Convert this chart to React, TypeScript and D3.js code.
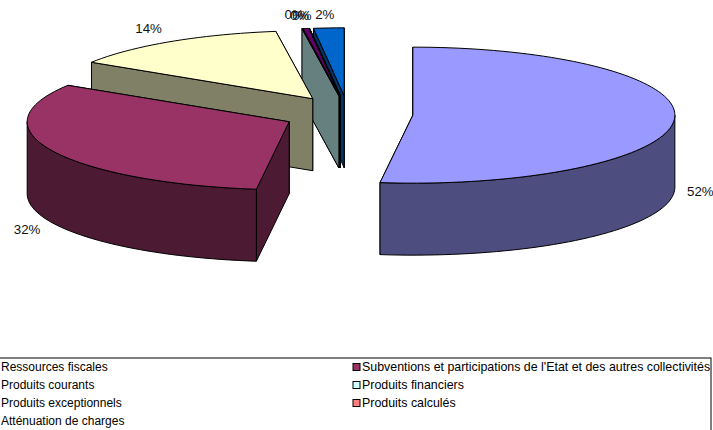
// App.tsx
import * as d3 from "d3";

const CATEGORIES = [
  "Ressources fiscales",
  "Subventions et participations de l'Etat et des autres collectivités",
  "Produits courants",
  "Produits financiers",
  "Produits exceptionnels",
  "Produits calculés",
  "Atténuation de charges",
];
const VALUES = [52, 32, 13.75, 0.02, 0.35, 0.01, 1.87];
const COLORS = ["#9999ff", "#993366", "#ffffcc", "#ccffff", "#660066", "#ff8080", "#0066cc"];

const WIDTH = 713;
const HEIGHT = 430;
const CENTER = { x: 348, y: 114 };
const RX = 262;
const RY = 68;
const DEPTH = 72;
const EXPLODE = 65;
const EXPLODE_Y = 0.28;

// label nudges from the exploded rim point
const LABEL_NUDGE = [
  [26, 73],
  [-25, 80],
  [-22, -12],
  [-8, -13],
  [-4, -12],
  [-10, -12],
  [-4, -12],
];

type Pt = [number, number];

const pieAngles = d3
  .pie<number>()
  .sort(null)
  .startAngle(0)
  .endAngle(Math.PI * 2)(VALUES);

const total = d3.sum(VALUES);
const path = d3.line<Pt>();
const half = (c: string) => {
  const { r, g, b } = d3.rgb(c);
  return d3.rgb(r / 2, g / 2, b / 2).formatHex();
};

function sliceShapes(i: number) {
  const { startAngle: a0, endAngle: a1 } = pieAngles[i];
  const mid = (a0 + a1) / 2;
  const apex: Pt = [
    CENTER.x + EXPLODE * Math.sin(mid),
    CENTER.y - EXPLODE * EXPLODE_Y * Math.cos(mid),
  ];
  const rim = (a: number): Pt => [
    apex[0] + RX * Math.sin(a),
    apex[1] - RY * Math.cos(a),
  ];
  const down = ([x, y]: Pt): Pt => [x, y + DEPTH];
  const arcPts = (from: number, to: number) => {
    const n = Math.max(2, Math.ceil(((to - from) / Math.PI) * 90));
    return d3.range(n + 1).map((k) => rim(from + ((to - from) * k) / n));
  };
  const top = path([apex, ...arcPts(a0, a1)]) + "Z";
  const startFace = path([apex, rim(a0), down(rim(a0)), down(apex)]) + "Z";
  const endFace = path([apex, rim(a1), down(rim(a1)), down(apex)]) + "Z";
  // outer wall only where the rim faces the viewer
  const w0 = Math.max(a0, Math.PI / 2);
  const w1 = Math.min(a1, (Math.PI * 3) / 2);
  let wall: string | null = null;
  if (w1 > w0) {
    const upper = arcPts(w0, w1);
    wall = path([...upper, ...upper.slice().reverse().map(down)]) + "Z";
  }
  return { top, startFace, endFace, wall, labelAt: rim(mid) };
}

const slices = VALUES.map((_, i) => sliceShapes(i));
const drawOrder = d3.range(VALUES.length).reverse();

const legendRows = d3.range(Math.ceil(CATEGORIES.length / 2));
const legendY = d3.scalePoint<number>().domain(legendRows).range([367.5, 421.5]);
const legendX = [1, 362];
const markerX = [-14, 353];
const legendFont = [12, 12.4];

export default function App() {
  return (
    <svg
      width={WIDTH}
      height={HEIGHT}
      viewBox={`0 0 ${WIDTH} ${HEIGHT}`}
      style={{ position: "absolute", left: 0, top: 0, display: "block", background: "#fff" }}
      fontFamily="'Liberation Sans', Arial, sans-serif"
    >
      {drawOrder.map((i) => {
        const s = slices[i];
        const side = half(COLORS[i]);
        return (
          <g key={i} stroke="#000" strokeWidth={1} strokeLinejoin="round">
            <path d={s.endFace} fill={side} />
            <path d={s.startFace} fill={side} />
            {s.wall && <path d={s.wall} fill={side} />}
            <path d={s.top} fill={COLORS[i]} />
          </g>
        );
      })}

      {VALUES.map((v, i) => {
        const [x, y] = slices[i].labelAt;
        const [dx, dy] = LABEL_NUDGE[i];
        return (
          <text
            key={i}
            x={x + dx}
            y={y + dy}
            fontSize={13.3}
            fill="#111"
            textAnchor="middle"
            dominantBaseline="middle"
          >
            {Math.round((v / total) * 100)}%
          </text>
        );
      })}

      <rect x={-16} y={358} width={727} height={90} fill="#fff" stroke="#000" />
      {CATEGORIES.map((c, i) => {
        const col = i % 2;
        const y = legendY(Math.floor(i / 2)) as number;
        return (
          <g key={c}>
            <rect
              x={markerX[col]}
              y={y - 4}
              width={7}
              height={7}
              fill={COLORS[i]}
              stroke="#000"
              strokeWidth={1}
            />
            <text x={legendX[col]} y={y} fontSize={legendFont[col]} fill="#000" dominantBaseline="middle">
              {c}
            </text>
          </g>
        );
      })}
    </svg>
  );
}
